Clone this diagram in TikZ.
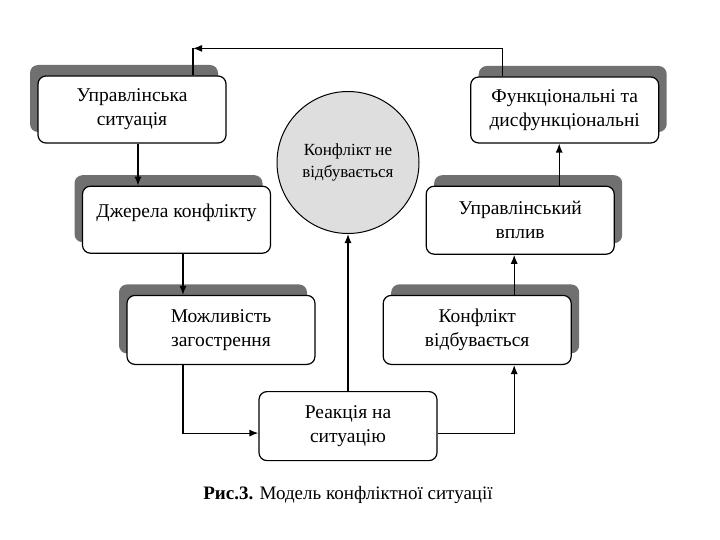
\documentclass[tikz,border=0pt]{standalone}
\usepackage{fontspec}
\setmainfont{Liberation Serif}
\newfontfamily\boxfont{Liberation Serif}
\usetikzlibrary{positioning, arrows.meta, shadows}

\definecolor{shadowgray}{RGB}{112,112,112}
\definecolor{circgray}{RGB}{222,222,222}

\begin{document}
\begin{tikzpicture}[x=1pt, y=1pt,
        box/.style={draw, rectangle, rounded corners=8pt, align=center, minimum width=188pt, minimum height=67pt, fill=white, line width=1.2pt, font=\boxfont\fontsize{19.5}{24}\selectfont},
        lshadow/.style={general shadow={fill=shadowgray, shadow xshift=-8pt, shadow yshift=11pt}},
        rshadow/.style={general shadow={fill=shadowgray, shadow xshift=8pt, shadow yshift=11pt}},
        arrow/.style={-{Latex[length=9pt, width=7pt]}, line width=1.2pt}
    ]
    \useasboundingbox (0,0) rectangle (720,-540);

    \node[box, lshadow] (sit) at (132,-109.5) {Управлінська\\ситуація};
    \node[box, lshadow, below=42pt of sit, xshift=44.5pt, text depth=17pt] (src) {Джерела конфлікту};
    \node[box, lshadow, below=41pt of src, xshift=44.5pt, minimum height=69pt] (esc) {Можливість\\загострення};
    \node[box, below=26pt of esc, xshift=127pt, minimum width=178pt, minimum height=69pt] (react) {Реакція на\\ситуацію};
    \node[box, rshadow, right=67pt of esc, minimum height=69pt] (occ) {Конфлікт\\відбувається};
    \node[box, rshadow, above=40pt of occ, xshift=43pt, minimum height=68pt] (infl) {Управлінський\\вплив};
    \node[box, rshadow, above=42pt of infl, xshift=44.5pt, minimum height=66pt] (func) {Функціональні та\\дисфункціональні};
    \node[draw, circle, minimum size=142pt, fill=circgray, line width=1pt, align=center, font=\boxfont\fontsize{17}{22}\selectfont, above=157pt of react] (circ) {Конфлікт не\\відбувається};
    \node[below=22pt of react, font=\boxfont\fontsize{19}{22}\selectfont] (cap) {\textbf{Рис.3.} Модель конфліктної ситуації};

    \coordinate (back) at ([xshift=61pt, yshift=27pt]sit.north);

    \draw[arrow] ([xshift=-62pt]func.north) |- (back);
    \draw[line width=1.2pt] (back) -- ([xshift=61pt]sit.north);
    \draw[arrow] ([xshift=6pt]sit.south) -- ([xshift=6pt]sit.south |- src.north);
    \draw[arrow] ([xshift=6.5pt]src.south) -- ([xshift=6.5pt]src.south |- esc.north);
    \draw[arrow] ([xshift=-38pt]esc.south) |- ([yshift=-7pt]react.west);
    \draw[arrow] ([yshift=-7pt]react.east) -| ([xshift=37pt]occ.south);
    \draw[arrow] (react.north) -- (circ.south);
    \draw[arrow] ([xshift=37pt]occ.north) -- ([xshift=37pt]occ.north |- infl.south);
    \draw[arrow] ([xshift=39pt]infl.north) -- ([xshift=39pt]infl.north |- func.south);
\end{tikzpicture}
\end{document}
